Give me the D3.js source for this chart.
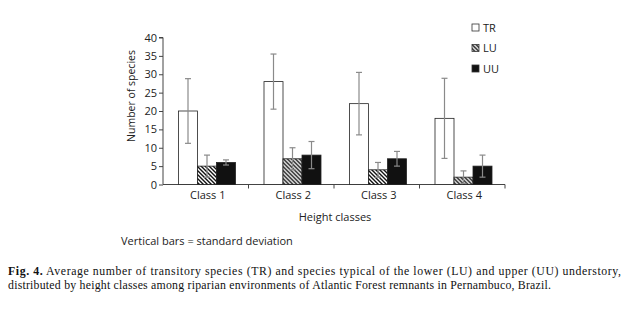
<!DOCTYPE html>
<meta charset="utf-8">
<script src="https://d3js.org/d3.v7.min.js"></script>
<style>
  body { margin: 0; background: #fff; }
  svg { display: block; }
</style>
<body>
<div id="chart"></div>
<script>
// data
var classes = ["Class 1", "Class 2", "Class 3", "Class 4"];
var series = ["TR", "LU", "UU"];
var meanTR = [20, 28, 22, 18];
var meanLU = [5, 7, 4, 2];
var meanUU = [6, 8, 7, 5];
var sdTR = [8.8, 7.5, 8.5, 10.9];
var sdLU = [3, 3, 2, 1.7];
var sdUU = [0.7, 3.7, 2, 3];
var yTicks = [0, 5, 10, 15, 20, 25, 30, 35, 40];

var means = { TR: meanTR, LU: meanLU, UU: meanUU };
var sds = { TR: sdTR, LU: sdLU, UU: sdUU };

var W = 626, H = 318;
var svg = d3.select("#chart").append("svg").attr("width", W).attr("height", H);

var defs = svg.append("defs");
var pat = defs.append("pattern")
    .attr("id", "hatch")
    .attr("patternUnits", "userSpaceOnUse")
    .attr("width", 4).attr("height", 4);
pat.append("rect").attr("width", 4).attr("height", 4).attr("fill", "#fff");
pat.append("path")
    .attr("d", "M-1,-1 L5,5 M-1,3 L1,5 M3,-1 L5,1")
    .attr("stroke", "#111").attr("stroke-width", 1.4);

var left = 163, right = 505, y0 = 184.5, yTop = 37.5;
var font = "'Open Sans', sans-serif";

var x = d3.scaleBand().domain(classes).range([left, right]).padding(0);
var xs = d3.scaleBand().domain(series).range([15.5, 72.5]).padding(0);
var y = d3.scaleLinear().domain([0, 40]).range([y0, yTop]);

var fills = { TR: "#fff", LU: "url(#hatch)", UU: "#111" };

// y axis
var yAxis = svg.append("g")
    .attr("transform", "translate(" + left + ",0)")
    .call(d3.axisLeft(y).tickValues(yTicks).tickSize(4).tickPadding(2));
yAxis.select(".domain").attr("stroke", "#444").attr("d", "M-4," + y(40) + "H0V" + y0);
yAxis.selectAll("line").attr("stroke", "#444");
yAxis.selectAll("text").attr("font-family", font).attr("font-size", 11).attr("fill", "#222");

// x axis
var xg = svg.append("g").attr("transform", "translate(0," + y0 + ")");
xg.append("line").attr("x1", left).attr("x2", right).attr("stroke", "#444");
xg.selectAll(".tk").data(classes).enter().append("line")
    .attr("x1", function(d) { return x(d) + x.bandwidth(); })
    .attr("x2", function(d) { return x(d) + x.bandwidth(); })
    .attr("y1", 0).attr("y2", 4).attr("stroke", "#444");
xg.selectAll(".lbl").data(classes).enter().append("text")
    .attr("x", function(d) { return x(d) + x.bandwidth() / 2 + 2; })
    .attr("y", 14.5)
    .attr("text-anchor", "middle")
    .attr("font-family", font).attr("font-size", 11).attr("fill", "#222")
    .text(function(d) { return d; });

// bars
var groups = svg.selectAll(".grp").data(classes).enter().append("g")
    .attr("transform", function(d) { return "translate(" + x(d) + ",0)"; });

groups.selectAll("rect")
    .data(function(d, i) { return series.map(function(s) { return { key: s, v: means[s][i], sd: sds[s][i] }; }); })
    .enter().append("rect")
    .attr("x", function(d) { return xs(d.key); })
    .attr("y", function(d) { return y(d.v); })
    .attr("width", xs.bandwidth())
    .attr("height", function(d) { return y0 - y(d.v); })
    .attr("fill", function(d) { return fills[d.key]; })
    .attr("stroke", "#222").attr("stroke-width", 0.8);

// error bars
var eb = groups.selectAll(".eb")
    .data(function(d, i) { return series.map(function(s) { return { key: s, v: means[s][i], sd: sds[s][i] }; }); })
    .enter().append("g")
    .attr("stroke", "#8a8a8a").attr("stroke-width", 1.2);
eb.append("line")
    .attr("x1", function(d) { return xs(d.key) + xs.bandwidth() / 2; })
    .attr("x2", function(d) { return xs(d.key) + xs.bandwidth() / 2; })
    .attr("y1", function(d) { return y(d.v + d.sd); })
    .attr("y2", function(d) { return y(Math.max(0, d.v - d.sd)); });
eb.append("line")
    .attr("x1", function(d) { return xs(d.key) + xs.bandwidth() / 2 - 3; })
    .attr("x2", function(d) { return xs(d.key) + xs.bandwidth() / 2 + 3; })
    .attr("y1", function(d) { return y(d.v + d.sd); })
    .attr("y2", function(d) { return y(d.v + d.sd); });
eb.append("line")
    .attr("x1", function(d) { return xs(d.key) + xs.bandwidth() / 2 - 3; })
    .attr("x2", function(d) { return xs(d.key) + xs.bandwidth() / 2 + 3; })
    .attr("y1", function(d) { return y(Math.max(0, d.v - d.sd)); })
    .attr("y2", function(d) { return y(Math.max(0, d.v - d.sd)); });

// axis titles
svg.append("text")
    .attr("transform", "translate(135,96) rotate(-90)")
    .attr("text-anchor", "middle")
    .attr("font-family", font).attr("font-size", 10.5).attr("fill", "#222")
    .text("Number of species");
svg.append("text")
    .attr("x", 335).attr("y", 221)
    .attr("text-anchor", "middle")
    .attr("font-family", font).attr("font-size", 11).attr("fill", "#222")
    .text("Height classes");
svg.append("text")
    .attr("x", 121).attr("y", 245)
    .attr("font-family", font).attr("font-size", 11).attr("fill", "#222")
    .text("Vertical bars = standard deviation");

// legend
var leg = svg.selectAll(".leg").data(series).enter().append("g")
    .attr("transform", function(d, i) { return "translate(472," + (24 + i * 20.5) + ")"; });
leg.append("rect")
    .attr("width", 7).attr("height", 7)
    .attr("fill", function(d) { return fills[d]; })
    .attr("stroke", "#333").attr("stroke-width", 0.8);
leg.append("text")
    .attr("x", 11).attr("y", 7.5)
    .attr("font-family", font).attr("font-size", 11).attr("fill", "#222")
    .text(function(d) { return d; });

// caption
var serif = "'Liberation Serif', 'Times New Roman', serif";
var c1 = svg.append("text")
    .attr("x", 8).attr("y", 275)
    .attr("font-family", serif).attr("font-size", 11.8).attr("fill", "#111")
    .attr("textLength", 613).attr("lengthAdjust", "spacing");
c1.append("tspan").attr("font-weight", "bold").text("Fig. 4.");
c1.append("tspan").text(" Average number of transitory species (TR) and species typical of the lower (LU) and upper (UU) understory,");
svg.append("text")
    .attr("x", 8).attr("y", 288.5)
    .attr("font-family", serif).attr("font-size", 11.8).attr("fill", "#111")
    .attr("textLength", 543).attr("lengthAdjust", "spacing")
    .text("distributed by height classes among riparian environments of Atlantic Forest remnants in Pernambuco, Brazil.");
</script>
</body>
